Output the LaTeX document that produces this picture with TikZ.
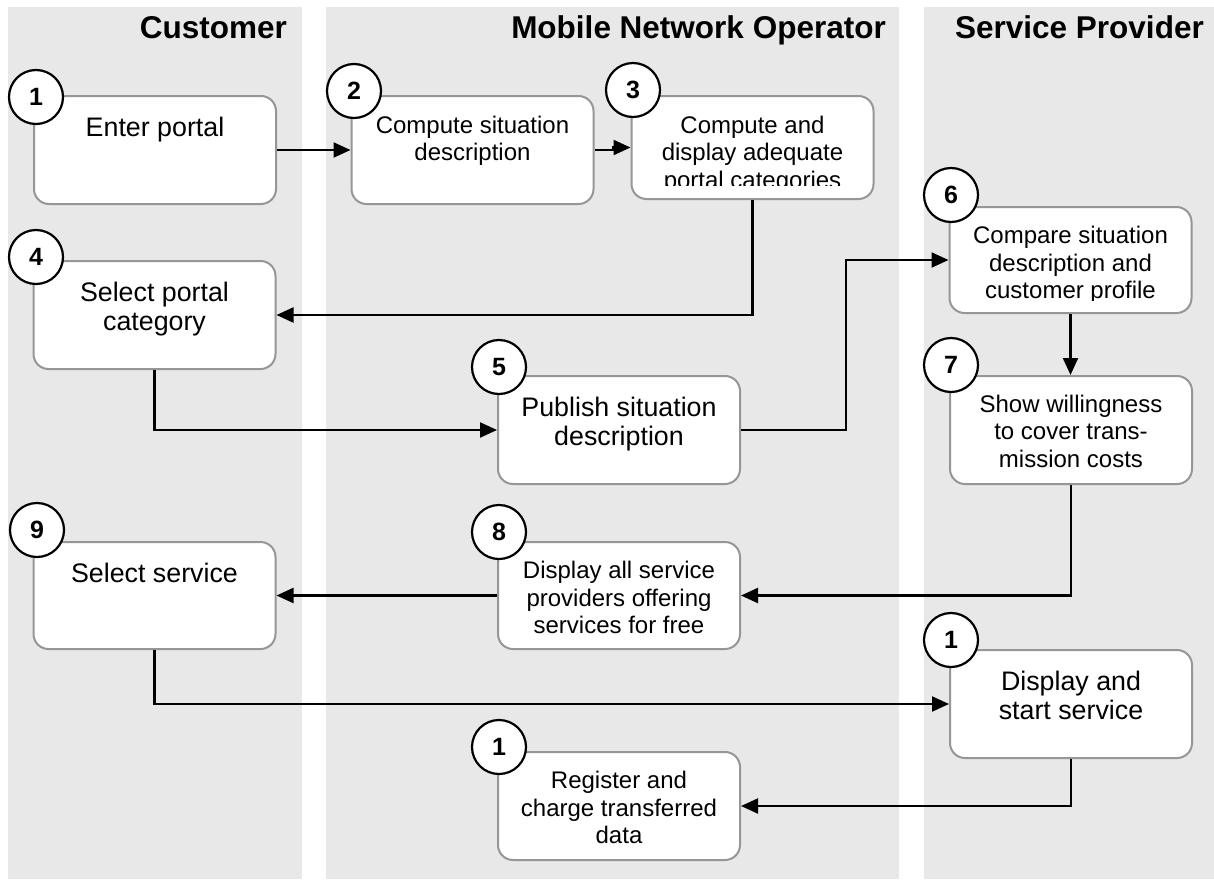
\documentclass[tikz,border=0pt]{standalone}
\usepackage{fontspec}
\setmainfont{Liberation Sans}
\usetikzlibrary{arrows.meta}
\definecolor{lanegray}{RGB}{232,232,232}
\definecolor{boxgray}{RGB}{150,150,150}
\begin{document}
\begin{tikzpicture}[x=1pt,y=-1pt,
  lane/.style={fill=lanegray,draw=none},
  hdr/.style={font=\fontsize{31.5}{34}\selectfont\bfseries, anchor=base east, inner sep=0},
  stepbox/.style={draw=boxgray, line width=2pt, fill=white, rounded corners=15pt,
    minimum width=242pt, minimum height=108pt, inner sep=0},
  big/.style={font=\fontsize{26.8}{29}\selectfont, align=center, anchor=north, inner sep=0},
  small/.style={font=\fontsize{24}{27.5}\selectfont, align=center, anchor=north, inner sep=0},
  num/.style={circle, draw=black, line width=2.2pt, fill=white, minimum size=54pt,
    inner sep=0, font=\fontsize{25}{25}\selectfont\bfseries},
  arr/.style={line width=2.2pt, -{Triangle[length=17pt,width=15pt]}}
]
\useasboundingbox (0,0) rectangle (1214,881);

% swim lanes
\fill[lane] (8,7) rectangle (302,879);
\fill[lane] (326,7) rectangle (899,879);
\fill[lane] (924,7) rectangle (1214,879);

\node[hdr] (hC) at (287,38) {Customer};
\node[hdr] (hM) at (886,38) {Mobile Network Operator};
\node[hdr] (hS) at (1204,38) {Service Provider};

% process steps
\node[stepbox] (b1) at (155,150) {};
\node[stepbox] (b2) at (472.5,150) {};
\node[stepbox, minimum height=103pt] (b3) at (752.5,147.5) {};
\node[stepbox] (b4) at (154.5,315) {};
\node[stepbox] (b5) at (619,430) {};
\node[stepbox, minimum height=106pt] (b6) at (1070.5,260) {};
\node[stepbox] (b7) at (1071,430) {};
\node[stepbox, minimum height=107pt] (b8) at (619,595.5) {};
\node[stepbox, minimum height=107pt] (b9) at (154.5,595.5) {};
\node[stepbox] (b10) at (1071,704) {};
\node[stepbox] (b11) at (619,806) {};

% step texts
\node[big] (t1) at ([yshift=-21.5pt]b1.north) {Enter portal};
\node[small] (t2) at ([yshift=-20.5pt]b2.north) {Compute situation\\description};
\begin{scope}
  \clip (630,100) rectangle (875,185);
  \node[small] (t3) at ([yshift=-20.5pt]b3.north) {Compute and\\display adequate\\portal categories};
\end{scope}
\node[big] (t4) at ([yshift=-21.5pt]b4.north) {Select portal\\category};
\node[big] (t5) at ([yshift=-21.5pt]b5.north) {Publish situation\\description};
\begin{scope}
  \clip (950,210) rectangle (1192,300);
  \node[small] (t6) at ([yshift=-20pt]b6.north) {Compare situation\\description and\\customer profile};
\end{scope}
\node[small] (t7) at ([yshift=-19.5pt]b7.north) {Show willingness\\to cover trans-\\mission costs};
\node[small] (t8) at ([yshift=-20pt]b8.north) {Display all service\\providers offering\\services for free};
\node[big] (t9) at ([yshift=-21.5pt]b9.north) {Select service};
\node[big] (t10) at ([yshift=-21.5pt]b10.north) {Display and\\start service};
\node[small] (t11) at ([yshift=-20pt]b11.north) {Register and\\charge transferred\\data};

% step numbers
\node[num] (n1) at (36,97) {1};
\node[num] (n2) at (354,91) {2};
\node[num] (n3) at (633,90) {3};
\node[num] (n4) at (36,257) {4};
\node[num] (n5) at (499,367) {5};
\node[num] (n6) at (951,195) {6};
\node[num] (n7) at (951,365) {7};
\node[num] (n8) at (499,532) {8};
\node[num] (n9) at (37,530) {9};
\node[num] (n10) at (951,640) {1};
\node[num] (n11) at (499,747) {1};

% flow
\draw[arr] (b1.east) -- (b2.west);
\draw[arr] (b2.east) -- ++(19,0) |- (b3.west);
\draw[arr] (b3.south) |- (b4.east);
\draw[arr] (b4.south) |- (b5.west);
\draw[arr] (b5.east) -- ++(105,0) |- (b6.west);
\draw[arr] (b6.south) -- (b6.south |- b7.north);
\draw[arr] (b7.south) |- (b8.east);
\draw[arr] (b8.west) -- (b9.east);
\draw[arr] (b9.south) |- (b10.west);
\draw[arr] (b10.south) |- (b11.east);
\end{tikzpicture}
\end{document}
